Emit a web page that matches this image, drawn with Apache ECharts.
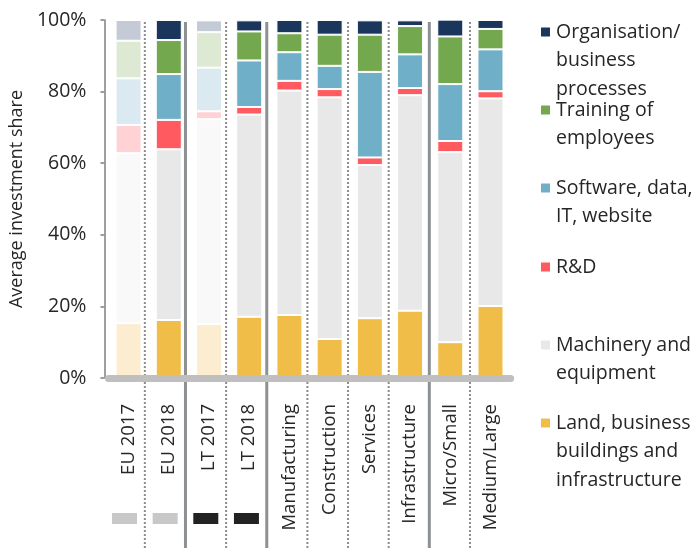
<!DOCTYPE html>
<html><head><meta charset="utf-8">
<script src="https://cdn.jsdelivr.net/npm/echarts@6/dist/echarts.min.js"></script>
<style>html,body{margin:0;padding:0;background:#fff}#c{width:698px;height:548px}</style>
</head><body><div id="c"></div>
<script>
const categories = ['EU 2017','EU 2018','LT 2017','LT 2018','Manufacturing','Construction','Services','Infrastructure','Micro/Small','Medium/Large'];
const land      = [15.3, 16.2, 15.1, 17.1, 17.6, 10.9, 16.7, 18.8, 10.0, 20.1];
const machinery = [47.5, 47.7, 57.2, 56.5, 62.7, 67.5, 42.8, 60.2, 53.1, 58.0];
const rnd       = [ 7.9,  8.2,  2.2,  2.1,  2.7,  2.3,  2.1,  2.0,  3.1,  2.0];
const software  = [13.0, 12.8, 12.2, 13.0,  8.0,  6.5, 23.9,  9.4, 15.9, 11.7];
const training  = [10.5,  9.5,  9.9,  8.1,  5.3,  8.7, 10.4,  7.9, 13.3,  5.7];
const org       = [ 5.8,  5.6,  3.3,  3.1,  3.7,  4.1,  4.0,  1.6,  4.7,  2.5];
const fadedBars = ['EU 2017', 'LT 2017'];
const groupTags = ['EU','EU','LT','LT',null,null,null,null,null,null];
const dottedBounds = [1, 3, 5, 6, 7, 9];
const solidBounds = [2, 4, 8];
const yTicks = [0, 20, 40, 60, 80, 100];

const FONT = 'Open Sans';
const TXT = '#262626';
const seriesDefs = [
  {name:'Land, business buildings and infrastructure', lines:['Land, business','buildings and','infrastructure'], data:land, color:'#f0be48', faded:'#fcedd0'},
  {name:'Machinery and equipment', lines:['Machinery and','equipment'], data:machinery, color:'#e8e8e8', faded:'#f9f9f9'},
  {name:'R&D', lines:['R&D'], data:rnd, color:'#ff5a5f', faded:'#ffd3d5'},
  {name:'Software, data, IT, website', lines:['Software, data,','IT, website'], data:software, color:'#6fb0c8', faded:'#dbe9f1'},
  {name:'Training of employees', lines:['Training of','employees'], data:training, color:'#73a84f', faded:'#dde9d3'},
  {name:'Organisation/ business processes', lines:['Organisation/','business','processes'], data:org, color:'#1a365d', faded:'#c5cbd6'}
];
const legendOrder = seriesDefs.slice().reverse();
const legendMarkY = [32, 110, 188, 267, 345, 423];
const LH = 28.5;

const chart = echarts.init(document.getElementById('c'), null, {renderer:'canvas'});

const barSeries = seriesDefs.map(s => ({
  name: s.name, type: 'bar', stack: 'total', barWidth: 26,
  xAxisIndex: 0, yAxisIndex: 0,
  itemStyle: {color: s.color, borderColor: '#fff', borderWidth: 1},
  data: s.data.map((v, i) => fadedBars.includes(categories[i]) ? {value: v, itemStyle: {color: s.faded}} : v)
}));

const sepData = dottedBounds.map(b => [b, 0]).concat(solidBounds.map(b => [b, 1]));
const sepSeries = {
  type: 'custom', xAxisIndex: 1, yAxisIndex: 1, silent: true, z: 1,
  data: sepData,
  renderItem: function (params, api) {
    const x = api.value(0), solid = api.value(1) === 1;
    const p0 = api.coord([x, 0]), p1 = api.coord([x, 1]);
    return {type: 'line', shape: {x1: p0[0], y1: p0[1], x2: p1[0], y2: solid ? p1[1] + 2 : p1[1]},
      style: solid ? {stroke: '#8e9193', lineWidth: 3} : {stroke: '#8c8c8c', lineWidth: 2, lineDash: [2, 2]}};
  }
};
const tagColors = {EU: '#c8c8c8', LT: '#222222'};
const tagSeries = {
  type: 'bar', xAxisIndex: 2, yAxisIndex: 2, barWidth: 25, silent: true,
  data: groupTags.map(t => t ? {value: 1, itemStyle: {color: tagColors[t]}} : null)
};

// icon sits at the vertical middle of the text block, so blank lines are put
// before the text to bring the icon level with the first line
const legends = legendOrder.map((s, k) => {
  const n = s.lines.length;
  return {
    show: true, orient: 'vertical', left: 539, top: legendMarkY[k] - (2 * n - 1) * LH / 2,
    padding: 0, itemWidth: 11, itemHeight: 11, icon: 'rect', selectedMode: false,
    data: [s.name],
    formatter: () => '\n'.repeat(n - 1) + s.lines.join('\n'),
    textStyle: {fontFamily: FONT, fontSize: 19.5, lineHeight: LH, color: TXT}
  };
});

chart.setOption({
  animation: false,
  backgroundColor: '#fff',
  legend: legends,
  grid: [
    {left: 104.2, right: 187.4, top: 20, bottom: 170},
    {left: 104.2, right: 187.4, top: 20, bottom: 0},
    {left: 104.2, right: 187.4, top: 513, height: 11}
  ],
  xAxis: [
    {type: 'category', data: categories, gridIndex: 0, z: 5,
     axisLine: {lineStyle: {color: '#bfbfbf', width: 7}}, axisTick: {show: false},
     axisLabel: {rotate: 90, margin: 26, fontFamily: FONT, fontSize: 18.5, color: TXT, interval: 0}},
    {type: 'value', gridIndex: 1, min: 0, max: 10, show: false},
    {type: 'category', data: categories, gridIndex: 2, show: false}
  ],
  yAxis: [
    {type: 'value', gridIndex: 0, min: 0, max: 100, interval: 20, offset: 4,
     axisLine: {show: true, lineStyle: {color: '#7f7f7f', width: 1.5}},
     axisTick: {show: true, length: 4, lineStyle: {color: '#7f7f7f', width: 1.5}},
     splitLine: {show: false},
     axisLabel: {margin: 18, fontFamily: FONT, fontSize: 19.5, color: TXT, formatter: v => yTicks.includes(v) ? v + '%' : ''},
     name: 'Average investment share', nameLocation: 'middle', nameGap: 70,
     nameTextStyle: {fontFamily: FONT, fontSize: 18, color: TXT}},
    {type: 'value', gridIndex: 1, min: 0, max: 1, show: false},
    {type: 'value', gridIndex: 2, min: 0, max: 1, show: false}
  ],
  series: [sepSeries].concat(barSeries, [tagSeries])
});
</script></body></html>
